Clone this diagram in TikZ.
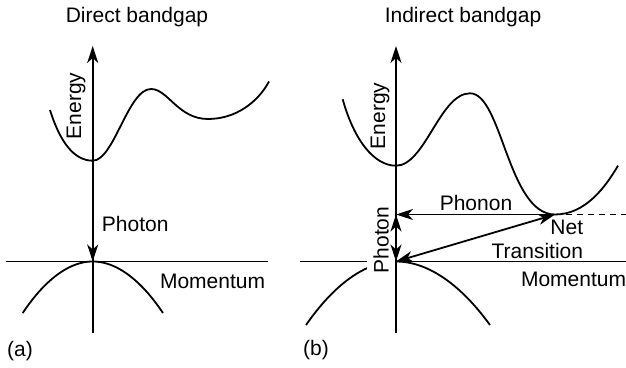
\documentclass[tikz,border=0pt]{standalone}
\usepackage{fontspec}
\setmainfont{Liberation Sans}
\usetikzlibrary{arrows.meta, positioning}

\begin{document}
\begin{tikzpicture}[x=0.5pt, y=-0.5pt, line width=0.9pt,
    every node/.style={font=\fontsize{10.5}{12}\selectfont, inner sep=1pt},
    >={Stealth[length=8.5pt, width=5.5pt, inset=2.5pt]},
    band/.style={line width=0.9pt},
    dashline/.style={line width=0.55pt, dash pattern=on 3pt off 2.5pt}]
  \useasboundingbox (0,0) rectangle (626,368);

  % Direct bandgap
  \coordinate (aO) at (92.7,261.5);
  \coordinate (aTop) at (92.7,46);
  \coordinate (aBot) at (92.7,333);
  \coordinate (aL) at (6,261.5);
  \coordinate (aR) at (268,261.5);
  \coordinate (aCB) at (92.7,160.7);
  \node (aTitle) at (137,17) {Direct bandgap};
  \draw[->] (aBot) -- (aTop);
  \draw (aL) -- (aR);
  \draw[band] (50,110) .. controls (60,142) and (74,160.7) .. (aCB)
    .. controls (114,160.7) and (128,89) .. (151,89)
    .. controls (168,89) and (178,119) .. (208,119)
    .. controls (236,119) and (258,102) .. (269,81.5);
  \draw[band] (22.7,313) parabola bend (aO) (163,313);
  \draw[->] (aCB) -- (aO);
  \node[rotate=90] (aEnergy) at (76,106) {Energy};
  \node[anchor=west] (aPhoton) at (99,224) {Photon};
  \node[anchor=east] (aMom) at (268,281) {Momentum};
  \node (aLabel) at (20,351) {(a)};

  % Indirect bandgap
  \coordinate (bO) at (396,261.5);
  \coordinate (bTop) at (396,46);
  \coordinate (bBot) at (396,333);
  \coordinate (bL) at (300,261.5);
  \coordinate (bR) at (626,261.5);
  \coordinate (bCB) at (396,165.7);
  \coordinate (bMin) at (555,214.5);
  \coordinate (bPh) at (396,214.5);
  \coordinate (bEdge) at (626,214.5);
  \node (bTitle) at (463,17) {Indirect bandgap};
  \draw[->] (bBot) -- (bTop);
  \draw (bL) -- (bR);
  \draw[band] (342.7,99.3) .. controls (354,140) and (374,165.7) .. (bCB)
    .. controls (425,165.7) and (440,93.3) .. (470,93.3)
    .. controls (502,93.3) and (508,214.5) .. (bMin)
    .. controls (586,214.5) and (606,186) .. (618,165.7);
  \draw[band] (306,325) parabola bend (bO) (490,325);
  \draw[dashline] (bMin) -- (bEdge);
  \node[rotate=90, fill=white, inner sep=3pt] (bPhoton) at (381,240) {Photon};
  \draw[->] (bMin) -- (bPh);
  \draw[<->] (bO) -- (bMin);
  \draw[<->] (bPh) -- (bO);
  \node[rotate=90] (bEnergy) at (380,116) {Energy};
  \node (bPhonon) at (476,203) {Phonon};
  \node[align=right, anchor=east] (bNet) at (586,239) {Net\\Transition};
  \node[anchor=east] (bMom) at (629,279) {Momentum};
  \node (bLabel) at (316,350) {(b)};
\end{tikzpicture}
\end{document}
